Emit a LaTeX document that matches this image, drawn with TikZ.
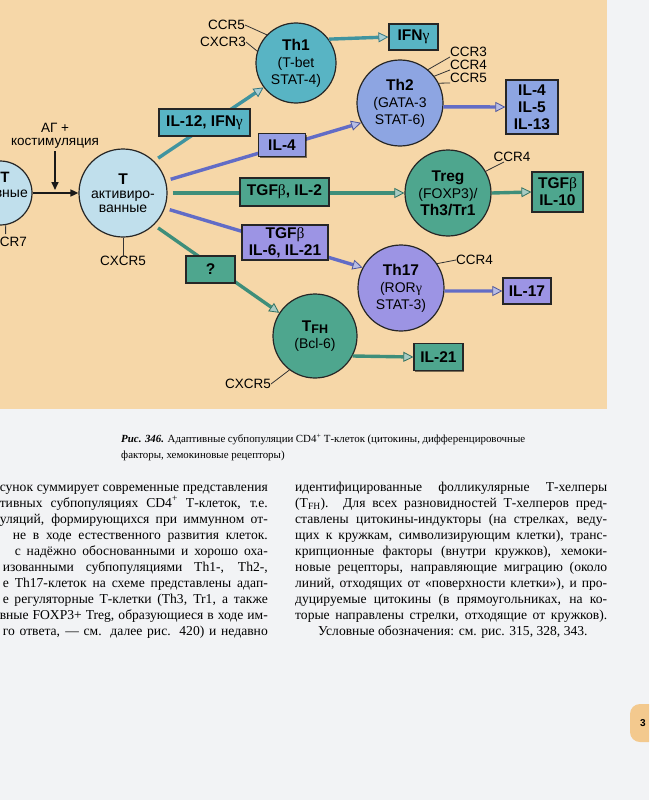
\documentclass[tikz,border=0pt]{standalone}
\usepackage{fontspec}
\setmainfont{Liberation Serif}
\newfontfamily\dsans{Liberation Sans}
\newfontfamily\grk{Liberation Serif}
\usetikzlibrary{arrows.meta,shadows}
\definecolor{peach}{RGB}{246,215,168}
\definecolor{paper}{RGB}{242,243,245}
\definecolor{cTone}{RGB}{88,180,196}
\definecolor{cTtwo}{RGB}{141,165,226}
\definecolor{cLav}{RGB}{150,158,228}
\definecolor{cGreen}{RGB}{78,166,142}
\definecolor{cPurp}{RGB}{156,148,228}
\definecolor{cLight}{RGB}{192,223,236}
\definecolor{lTeal}{RGB}{64,148,160}
\definecolor{lBlue}{RGB}{98,108,198}
\definecolor{lGreen}{RGB}{62,142,122}
\definecolor{tabc}{RGB}{243,201,142}
\newcommand\mygam{{\grk\mdseries γ}}
\newcommand\mybeta{{\grk\mdseries β}}
\begin{document}
\begin{tikzpicture}[x=1pt,y=-1pt,
  cell/.style={circle, draw=black!85, line width=1.2pt, fill=#1, inner sep=0pt, align=center,
    font=\dsans\fontsize{14}{17}\selectfont},
  box/.style={draw=black!85, line width=1.2pt, fill=#1, align=center, inner sep=0pt,
    font=\dsans\bfseries\fontsize{15.5}{17}\selectfont,
    drop shadow={shadow xshift=1.3pt, shadow yshift=-1.3pt, opacity=0.5, fill=black}},
  lab/.style={font=\dsans\fontsize{13.5}{13}\selectfont, inner sep=0pt},
  flow/.style={line width=3.4pt, draw=#1,
    -{Triangle[length=10pt, width=10pt, fill=#1!45!white, color=#1!80!black, line width=0.8pt]}},
  tick/.style={draw=black!80, line width=0.8pt},
  blk/.style={line width=1.6pt, draw=black!90, -{Triangle[length=8pt, width=7pt]}},
  body/.style={inner sep=0pt, font=\fontsize{13.6}{16}\selectfont},
  capt/.style={inner sep=0pt, font=\fontsize{10.9}{13}\selectfont, anchor=base west}
]
\useasboundingbox (0,0) rectangle (649,800);
\clip (0,0) rectangle (649,800);
\fill[paper] (0,0) rectangle (649,800);
\fill[peach] (0,0) rectangle (607,409);

% ---- cells
\node[cell=cLight, minimum size=64pt] (naive) at (0,193) {};
\node[font=\dsans\bfseries\fontsize{15}{15}\selectfont, inner sep=0pt] (naiveT) at (5,177) {T};
\node[font=\dsans\fontsize{14}{14}\selectfont, inner sep=0pt, anchor=east] (naiveW) at (28,194) {наивные};
\node[lab, anchor=east] (ccr7) at (27,242) {CCR7};
\coordinate (ccr7top) at (5.6,234);
\draw[tick] (naive.-80) -- (ccr7top);

\node[cell=cLight, minimum size=88pt, font=\dsans\fontsize{14}{14}\selectfont] (tact) at (123,193)
  {{\bfseries\fontsize{15.5}{14}\selectfont T}\\активиро-\\ванные};
\node[lab] (cx5a) at (123,261) {CXCR5};
\draw[tick] (tact.south) -- (cx5a.north);

\node[lab] (ag) at (55,128) {АГ +};
\node[lab] (kost) at (55,143) {костимуляция};
\coordinate (vbot) at (55,190);
\draw[blk, shorten <=3pt] (kost.south) -- (vbot);
\draw[blk] (naive.east) -- (tact.west);

\node[cell=cTone, minimum size=80pt] (th1) at (296,63)
  {{\bfseries\fontsize{15.5}{17}\selectfont Th1}\\(T-bet\\STAT-4)};
\node[lab, anchor=east] (ccr5a) at (245,25) {CCR5};
\node[lab, anchor=east] (cxcr3) at (246,42) {CXCR3};
\draw[tick] (ccr5a.east) -- (th1.136);
\draw[tick] (cxcr3.east) -- (th1.163);

\node[cell=cTtwo, minimum size=86pt] (th2) at (400,103)
  {{\bfseries\fontsize{15.5}{17}\selectfont Th2}\\(GATA-3\\STAT-6)};
\node[lab, anchor=west] (ccr3) at (450,52) {CCR3};
\node[lab, anchor=west] (ccr4) at (450,65) {CCR4};
\node[lab, anchor=west] (ccr5b) at (450,78) {CCR5};
\draw[tick] (th2.50) -- (ccr3.south west);
\draw[tick] (th2.38) -- (ccr4.south west);
\draw[tick] (th2.27) -- (ccr5b.south west);

\node[cell=cGreen, minimum size=86pt] (treg) at (448,193)
  {{\bfseries\fontsize{15.5}{17}\selectfont Treg}\\(FOXP3)/\\{\bfseries\fontsize{15.5}{17}\selectfont Th3/Tr1}};
\node[lab] (ccr4a) at (512,157) {CCR4};
\draw[tick] (treg.30) -- ([xshift=-8pt]ccr4a.south);

\node[cell=cPurp, minimum size=86pt] (th17) at (401,288)
  {{\bfseries\fontsize{15.5}{17}\selectfont Th17}\\(ROR\mygam\\STAT-3)};
\node[lab, anchor=west] (ccr4b) at (456,260) {CCR4};
\draw[tick] (th17.34) -- (ccr4b.west);

\node[cell=cGreen, minimum size=84pt] (tfh) at (315,336)
  {{\bfseries\fontsize{15.5}{17}\selectfont T{\fontsize{12.5}{12}\selectfont\raisebox{-2.5pt}{FH}}}\\(Bcl-6)};
\node[lab, anchor=east] (cx5b) at (271,384) {CXCR5};
\draw[tick] (cx5b.east) -- (tfh.-127);

% ---- product boxes
\node[box=cTone, minimum width=49pt, minimum height=26pt] (ifn) at (413.5,37) {IFN\mygam};
\node[box=cTtwo, minimum width=52pt, minimum height=54pt] (il4513) at (532,107) {IL-4\\IL-5\\IL-13};
\node[box=cGreen, minimum width=51pt, minimum height=40pt] (tgf10) at (557.5,192) {TGF\mybeta\\IL-10};
\node[box=cPurp, minimum width=48pt, minimum height=26pt] (il17) at (527,291) {IL-17};
\node[box=cGreen, minimum width=49pt, minimum height=27pt] (il21) at (438.5,357) {IL-21};

\draw[flow=lTeal] (th1.36) -- (ifn.west);
\draw[flow=lBlue] (th2.-5) -- (il4513.west);
\draw[flow=lGreen] (treg.east) -- (tgf10.west);
\draw[flow=lBlue] (th17.-4) -- (il17.west);
\draw[flow=lGreen] (tfh.-28) -- (il21.west);

% ---- induction arrows
\draw[flow=lTeal, shorten <=5pt] (tact.46) -- (th1.217);
\draw[flow=lBlue, shorten <=5pt] (tact.16) -- (th2.207);
\draw[flow=lGreen, shorten <=5pt] (tact.east) -- (treg.west);
\draw[flow=lBlue, shorten <=5pt] (tact.-20) -- (th17.152);
\draw[flow=lGreen, shorten <=5pt] (tact.-46) -- (tfh.147);

\node[box=cTone, minimum width=91pt, minimum height=27pt] (il12) at (204.5,122.5) {IL-12, IFN\mygam};
\node[box=cLav, minimum width=47pt, minimum height=23pt] (il4) at (282,145) {IL-4};
\node[box=cGreen, minimum width=89pt, minimum height=28pt] (tgf2) at (284.5,192) {TGF\mybeta, IL-2};
\node[box=cPurp, minimum width=86pt, minimum height=35pt] (tgf6) at (285,242.5) {TGF\mybeta\\IL-6, IL-21};
\node[box=cGreen, minimum width=49pt, minimum height=27pt] (qq) at (210.5,269.5) {?};

% ---- caption
\node[capt] (cap1) at (121,442) {\makebox[404pt][s]{\textbf{\textit{Рис. 346.}} Адаптивные субпопуляции CD4\textsuperscript{+} Т-клеток (цитокины, дифференцировочные}};
\node[capt] (cap2) at (121,458) {факторы, хемокиновые рецепторы)};

% ---- left column
\node[body, anchor=base east] (l1) at (268,491) {\makebox[268pt][s]{сунок суммирует современные представления}};
\node[body, anchor=base east] (l2) at (268,507.1) {\makebox[268pt][s]{тивных субпопуляциях CD4\textsuperscript{+} Т-клеток, т.е.}};
\node[body, anchor=base east] (l3) at (268,523.2) {\makebox[268pt][s]{уляций, формирующихся при иммунном от-}};
\node[body, anchor=base east] (l4) at (268,539.3) {\makebox[255pt][s]{не в ходе естественного развития клеток.}};
\node[body, anchor=base east] (l5) at (268,555.4) {\makebox[253pt][s]{с надёжно обоснованными и хорошо оха-}};
\node[body, anchor=base east] (l6) at (268,571.5) {\makebox[265pt][s]{изованными субпопуляциями Th1-, Th2-,}};
\node[body, anchor=base east] (l7) at (268,587.6) {\makebox[265pt][s]{е Th17-клеток на схеме представлены адап-}};
\node[body, anchor=base east] (l8) at (268,603.7) {\makebox[265pt][s]{е регуляторные Т-клетки (Th3, Tr1, а также}};
\node[body, anchor=base east] (l9) at (268,619.8) {\makebox[268pt][s]{вные FOXP3+ Treg, образующиеся в ходе им-}};
\node[body, anchor=base east] (l10) at (268,635.9) {\makebox[265pt][s]{го ответа, — см. далее рис. 420) и недавно}};

% ---- right column
\node[body, anchor=base west] (r1) at (295,491) {\makebox[312pt][s]{идентифицированные фолликулярные Т-хелперы}};
\node[body, anchor=base west] (r2) at (295,507.1) {\makebox[312pt][s]{(T\textsubscript{FH}). Для всех разновидностей Т-хелперов пред-}};
\node[body, anchor=base west] (r3) at (295,523.2) {\makebox[312pt][s]{ставлены цитокины-индукторы (на стрелках, веду-}};
\node[body, anchor=base west] (r4) at (295,539.3) {\makebox[312pt][s]{щих к кружкам, символизирующим клетки), транс-}};
\node[body, anchor=base west] (r5) at (295,555.4) {\makebox[312pt][s]{крипционные факторы (внутри кружков), хемоки-}};
\node[body, anchor=base west] (r6) at (295,571.5) {\makebox[312pt][s]{новые рецепторы, направляющие миграцию (около}};
\node[body, anchor=base west] (r7) at (295,587.6) {\makebox[312pt][s]{линий, отходящих от «поверхности клетки»), и про-}};
\node[body, anchor=base west] (r8) at (295,603.7) {\makebox[312pt][s]{дуцируемые цитокины (в прямоугольниках, на ко-}};
\node[body, anchor=base west] (r9) at (295,619.8) {\makebox[312pt][s]{торые направлены стрелки, отходящие от кружков).}};
\node[body, anchor=base west] (r10) at (318,635.9) {Условные обозначения: см. рис. 315, 328, 343.};

% ---- page tab
\fill[tabc, rounded corners=10pt] (630,704) rectangle (668,742);
\node[font=\dsans\bfseries\fontsize{10}{10}\selectfont, inner sep=0pt] (pgnum) at (643,723) {3};
\end{tikzpicture}
\end{document}
